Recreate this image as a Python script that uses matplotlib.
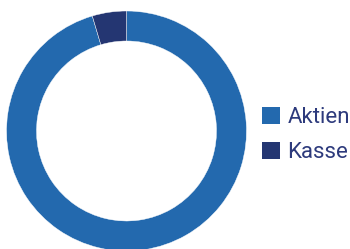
import matplotlib.pyplot as plt

# data
labels = ['Aktien', 'Kasse']
shares = [95.4, 4.6]
colors = ['#2369ae', '#243672']

plt.rcParams['font.family'] = ['Roboto', 'DejaVu Sans']

fig = plt.figure(figsize=(3.5, 2.49), dpi=100)
# square axes, 240x240 px
ax = fig.add_axes([6.5 / 350, (249 - 251) / 249, 240 / 350, 240 / 249])

wedges, _ = ax.pie(shares, colors=colors, startangle=90, counterclock=False,
                   radius=1.0, wedgeprops=dict(width=0.25, edgecolor='white', linewidth=0.3))
ax.set_xlim(-1, 1)
ax.set_ylim(-1, 1)
ax.set_aspect('equal')
ax.axis('off')

leg = fig.legend(wedges, labels, loc='center left', bbox_to_anchor=(262 / 350, 1 - 135 / 249),
                 frameon=False, fontsize=16, handlelength=0.8, handleheight=0.8,
                 handletextpad=0.35, labelspacing=0.65, borderpad=0, borderaxespad=0)
for t in leg.get_texts():
    t.set_color('#2d3a7c')
for h in leg.legend_handles:
    h.set_edgecolor('none')

fig.savefig('out.png', dpi=100)
